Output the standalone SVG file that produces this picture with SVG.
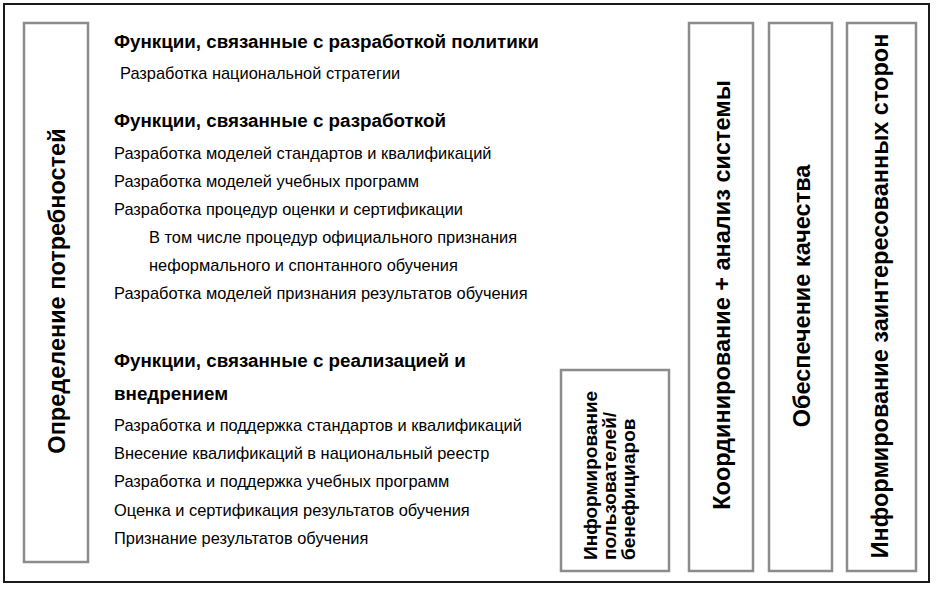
<svg xmlns="http://www.w3.org/2000/svg" width="936" height="589" viewBox="0 0 936 589">
<style>
.box{fill:#fff;stroke:#8c8c8c;stroke-width:2.5}
.h{font-family:"Liberation Sans",Arial,sans-serif;font-weight:bold;font-size:18.8px;fill:#000}
.t{font-family:"Liberation Sans",Arial,sans-serif;font-size:16.4px;fill:#000}
.v{font-family:"Liberation Sans",Arial,sans-serif;font-weight:bold;font-size:23.5px;fill:#000;text-anchor:middle}
.s{font-family:"Liberation Sans",Arial,sans-serif;font-weight:bold;font-size:19px;fill:#000}
</style>
<rect x="0" y="0" width="936" height="589" fill="#fff"/>
<rect id="frame" x="4" y="4" width="925" height="578" fill="#fff" stroke="#1a1a1a" stroke-width="2"/>
<g id="needs">
<rect class="box" x="24" y="23" width="64" height="539"/>
<text class="v" transform="translate(64.5,291) rotate(-90)">Определение потребностей</text>
</g>
<g id="functions">
<text class="h" x="114" y="48">Функции, связанные с разработкой политики</text>
<text class="t" x="120" y="78.5">Разработка национальной стратегии</text>
<text class="h" x="114" y="127">Функции, связанные с разработкой</text>
<text class="t" x="114" y="158.5">Разработка моделей стандартов и квалификаций</text>
<text class="t" x="114" y="186.5">Разработка моделей учебных программ</text>
<text class="t" x="114" y="214.5">Разработка процедур оценки и сертификации</text>
<text class="t" x="149" y="242.5">В том числе процедур официального признания</text>
<text class="t" x="149" y="270.5">неформального и спонтанного обучения</text>
<text class="t" x="114" y="298.5">Разработка моделей признания результатов обучения</text>
<text class="h" x="114" y="367">Функции, связанные с реализацией и</text>
<text class="h" x="114" y="399.5">внедрением</text>
<text class="t" x="114" y="431">Разработка и поддержка стандартов и квалификаций</text>
<text class="t" x="114" y="459">Внесение квалификаций в национальный реестр</text>
<text class="t" x="114" y="487">Разработка и поддержка учебных программ</text>
<text class="t" x="114" y="515.5">Оценка и сертификация результатов обучения</text>
<text class="t" x="114" y="543.5">Признание результатов обучения</text>
</g>
<g id="users">
<rect class="box" x="561" y="370" width="108" height="201"/>
<text class="s" transform="translate(597,560) rotate(-90)">Информирование</text>
<text class="s" transform="translate(616,560) rotate(-90)">пользователей/</text>
<text class="s" transform="translate(635,560) rotate(-90)">бенефициаров</text>
</g>
<g id="coord">
<rect class="box" x="689" y="23" width="64" height="548"/>
<text class="v" transform="translate(730,295) rotate(-90)">Координирование + анализ системы</text>
</g>
<g id="quality">
<rect class="box" x="769" y="23" width="63" height="548"/>
<text class="v" transform="translate(809.5,296) rotate(-90)">Обеспечение качества</text>
</g>
<g id="stakeholders">
<rect class="box" x="847" y="23" width="69" height="548"/>
<text class="v" transform="translate(888,296) rotate(-90)">Информирование заинтересованных сторон</text>
</g>
<g id="connectors"></g>
</svg>
